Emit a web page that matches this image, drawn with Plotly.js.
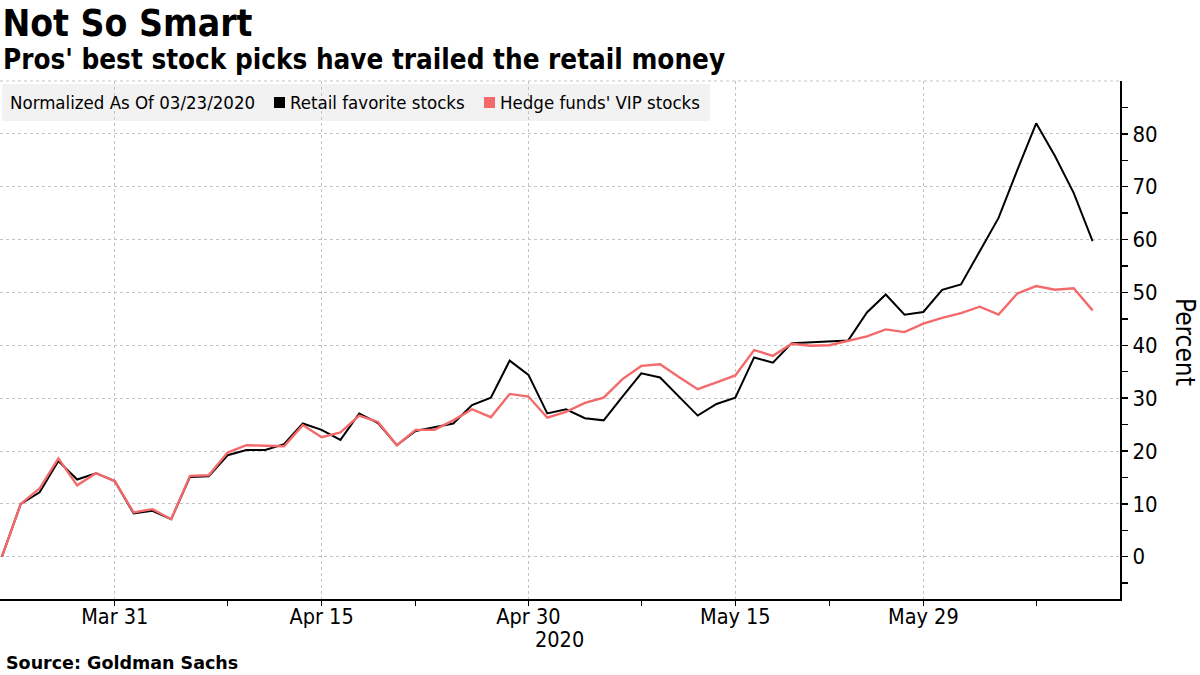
<!DOCTYPE html>
<html>
<head>
<meta charset="utf-8">
<script src="https://cdn.plot.ly/plotly-3.0.1.min.js"></script>
<style>
  html,body{margin:0;padding:0;background:#fff;}
  #chart{width:1200px;height:675px;}
</style>
</head>
<body>
<div id="chart"></div>
<script>
// ────── data (weekdays, normalized to 03/23/2020) ──────
const dates=[
  '2020-03-23','2020-03-24','2020-03-25','2020-03-26','2020-03-27',
  '2020-03-30','2020-03-31','2020-04-01','2020-04-02','2020-04-03',
  '2020-04-06','2020-04-07','2020-04-08','2020-04-09','2020-04-10',
  '2020-04-13','2020-04-14','2020-04-15','2020-04-16','2020-04-17',
  '2020-04-20','2020-04-21','2020-04-22','2020-04-23','2020-04-24',
  '2020-04-27','2020-04-28','2020-04-29','2020-04-30','2020-05-01',
  '2020-05-04','2020-05-05','2020-05-06','2020-05-07','2020-05-08',
  '2020-05-11','2020-05-12','2020-05-13','2020-05-14','2020-05-15',
  '2020-05-18','2020-05-19','2020-05-20','2020-05-21','2020-05-22',
  '2020-05-25','2020-05-26','2020-05-27','2020-05-28','2020-05-29',
  '2020-06-01','2020-06-02','2020-06-03','2020-06-04','2020-06-05',
  '2020-06-08','2020-06-09','2020-06-10','2020-06-11'
];
const retailFav=[
  0,10.0,12.2,18.1,14.6, 15.8,14.3,8.2,8.7,7.1,
  15.1,15.2,19.2,20.2,20.2, 21.3,25.2,24.0,22.1,27.1,
  25.3,21.1,23.8,24.5,25.2, 28.7,30.1,37.1,34.4,27.1,
  27.9,26.2,25.8,30.3,34.7, 33.9,30.3,26.7,28.9,30.1,
  37.7,36.7,40.4,40.6,40.8, 40.9,46.2,49.6,45.8,46.3,
  50.5,51.5,57.8,64.1,73.2, 82.0,75.8,68.8,59.7
];
const hedgeVip=[
  0,10.0,12.9,18.6,13.5, 15.8,14.3,8.4,9.0,7.1,
  15.3,15.4,19.7,21.1,21.0, 20.9,24.9,22.6,23.5,26.7,
  25.5,21.1,24.0,24.0,25.8, 27.9,26.4,30.8,30.3,26.3,
  27.4,29.1,30.1,33.6,36.1, 36.4,34.0,31.7,33.0,34.3,
  39.1,38.0,40.3,39.9,40.0, 40.9,41.7,43.0,42.5,44.1,
  45.2,46.1,47.3,45.8,49.8, 51.2,50.5,50.8,46.6
];
const xTickVals=['2020-03-31','2020-04-15','2020-04-30','2020-05-15','2020-05-29'];
const xTickText=['Mar 31','Apr 15','Apr 30','May 15','May 29'];
const xMinorVals=['2020-04-08','2020-04-22','2020-05-08','2020-05-22','2020-06-08'];
const yTickVals=[0,10,20,30,40,50,60,70,80];
const yMinorVals=[-5,5,15,25,35,45,55,65,75,85];

// ────── layout helpers (pixel -> paper) ──────
const W=1200,H=675,ML=0,MR=80,MT=81,MB=76;
const PW=W-ML-MR,PH=H-MT-MB;
const px=x=>(x-ML)/PW;
const py=y=>(H-MB-y)/PH;

const FONT='"DejaVu Sans Condensed", "DejaVu Sans", sans-serif';
const BLACK='#000000', RED='#f46a6b', GRID='#c4c4c4';

const traces=[
  {type:'scatter',mode:'lines',name:'Retail favorite stocks',x:dates,y:retailFav,
   line:{color:BLACK,width:2},hoverinfo:'x+y'},
  {type:'scatter',mode:'lines',name:"Hedge funds' VIP stocks",x:dates,y:hedgeVip,
   line:{color:RED,width:2.4},hoverinfo:'x+y'}
];

const txt=(text,x,y,size,opts)=>Object.assign({
  text,xref:'paper',yref:'paper',x:px(x),y:py(y),xanchor:'left',yanchor:'middle',
  showarrow:false,font:{family:FONT,size,color:'#000'}
},opts||{});

const layout={
  width:W,height:H,
  margin:{l:ML,r:MR,t:MT,b:MB,pad:0},
  paper_bgcolor:'#fff',plot_bgcolor:'#fff',
  showlegend:false,
  font:{family:FONT,color:'#000'},
  xaxis:{
    type:'date',
    range:['2020-03-20 21:30','2020-06-12 11:00'],
    rangebreaks:[{bounds:['sat','mon']}],
    tickmode:'array',tickvals:xTickVals,ticktext:xTickText,
    ticks:'outside',ticklen:5,tickwidth:1,tickcolor:'#000',
    ticklabelstandoff:-7,
    tickfont:{family:FONT,size:21.5,color:'#000'},
    showline:true,linecolor:'#000',linewidth:1.5,
    showgrid:true,gridcolor:GRID,gridwidth:1,griddash:'3px,3px',
    minor:{tickmode:'array',tickvals:xMinorVals,ticks:'outside',ticklen:5,tickwidth:1,tickcolor:'#000',showgrid:false},
    zeroline:false,fixedrange:true
  },
  yaxis:{
    side:'right',
    range:[-8,90],
    tickmode:'array',tickvals:yTickVals,
    ticks:'outside',ticklen:6,tickwidth:1.5,tickcolor:'#000',
    tickfont:{family:FONT,size:22,color:'#000'},
    showline:true,linecolor:'#000',linewidth:2,
    showgrid:true,gridcolor:GRID,gridwidth:1,griddash:'3px,3px',
    minor:{tickmode:'array',tickvals:yMinorVals,ticks:'outside',ticklen:6,tickwidth:1.5,tickcolor:'#000',showgrid:false},
    zeroline:false,fixedrange:true
  },
  title:{
    text:'<b>Not So Smart</b>',
    font:{family:FONT,size:37,color:'#000'},
    xref:'container',yref:'container',x:0.002,xanchor:'left',y:1-23/H,yanchor:'middle'
  },
  shapes:[
    // legend box
    {type:'rect',xref:'paper',yref:'paper',x0:px(2),x1:px(710),y0:py(121),y1:py(84),
     fillcolor:'#f2f2f2',line:{width:0},layer:'below'},
    {type:'rect',xref:'paper',yref:'paper',x0:px(274),x1:px(285),y0:py(108),y1:py(97),
     fillcolor:BLACK,line:{width:0}},
    {type:'rect',xref:'paper',yref:'paper',x0:px(484),x1:px(495),y0:py(108),y1:py(97),
     fillcolor:RED,line:{width:0}},
    // top frame
    {type:'line',xref:'paper',yref:'paper',x0:0,x1:1,y0:1,y1:1,
     line:{color:GRID,width:1,dash:'3px,3px'},layer:'below'}
  ],
  annotations:[
    txt("<b>Pros' best stock picks have trailed the retail money</b>",1,60,27.6),
    txt('Normalized As Of 03/23/2020',8,102,18.5),
    txt('Retail favorite stocks',288,102,18.5),
    txt("Hedge funds' VIP stocks",498,102,18.5),
    txt('<b>Source: Goldman Sachs</b>',4,663,17,{font:{family:'"DejaVu Sans", sans-serif',size:17.5,color:'#000'}}),
    {text:'2020',xref:'x',yref:'paper',x:'2020-04-30',xshift:31,y:py(639),
     xanchor:'center',yanchor:'middle',showarrow:false,font:{family:FONT,size:21.5,color:'#000'}},
    {text:'Percent',xref:'paper',yref:'paper',x:px(1185),y:py(342),textangle:90,
     xanchor:'center',yanchor:'middle',showarrow:false,font:{family:FONT,size:26,color:'#000'}}
  ]
};

Plotly.newPlot('chart',traces,layout,{displayModeBar:false,staticPlot:true});
</script>
</body>
</html>
